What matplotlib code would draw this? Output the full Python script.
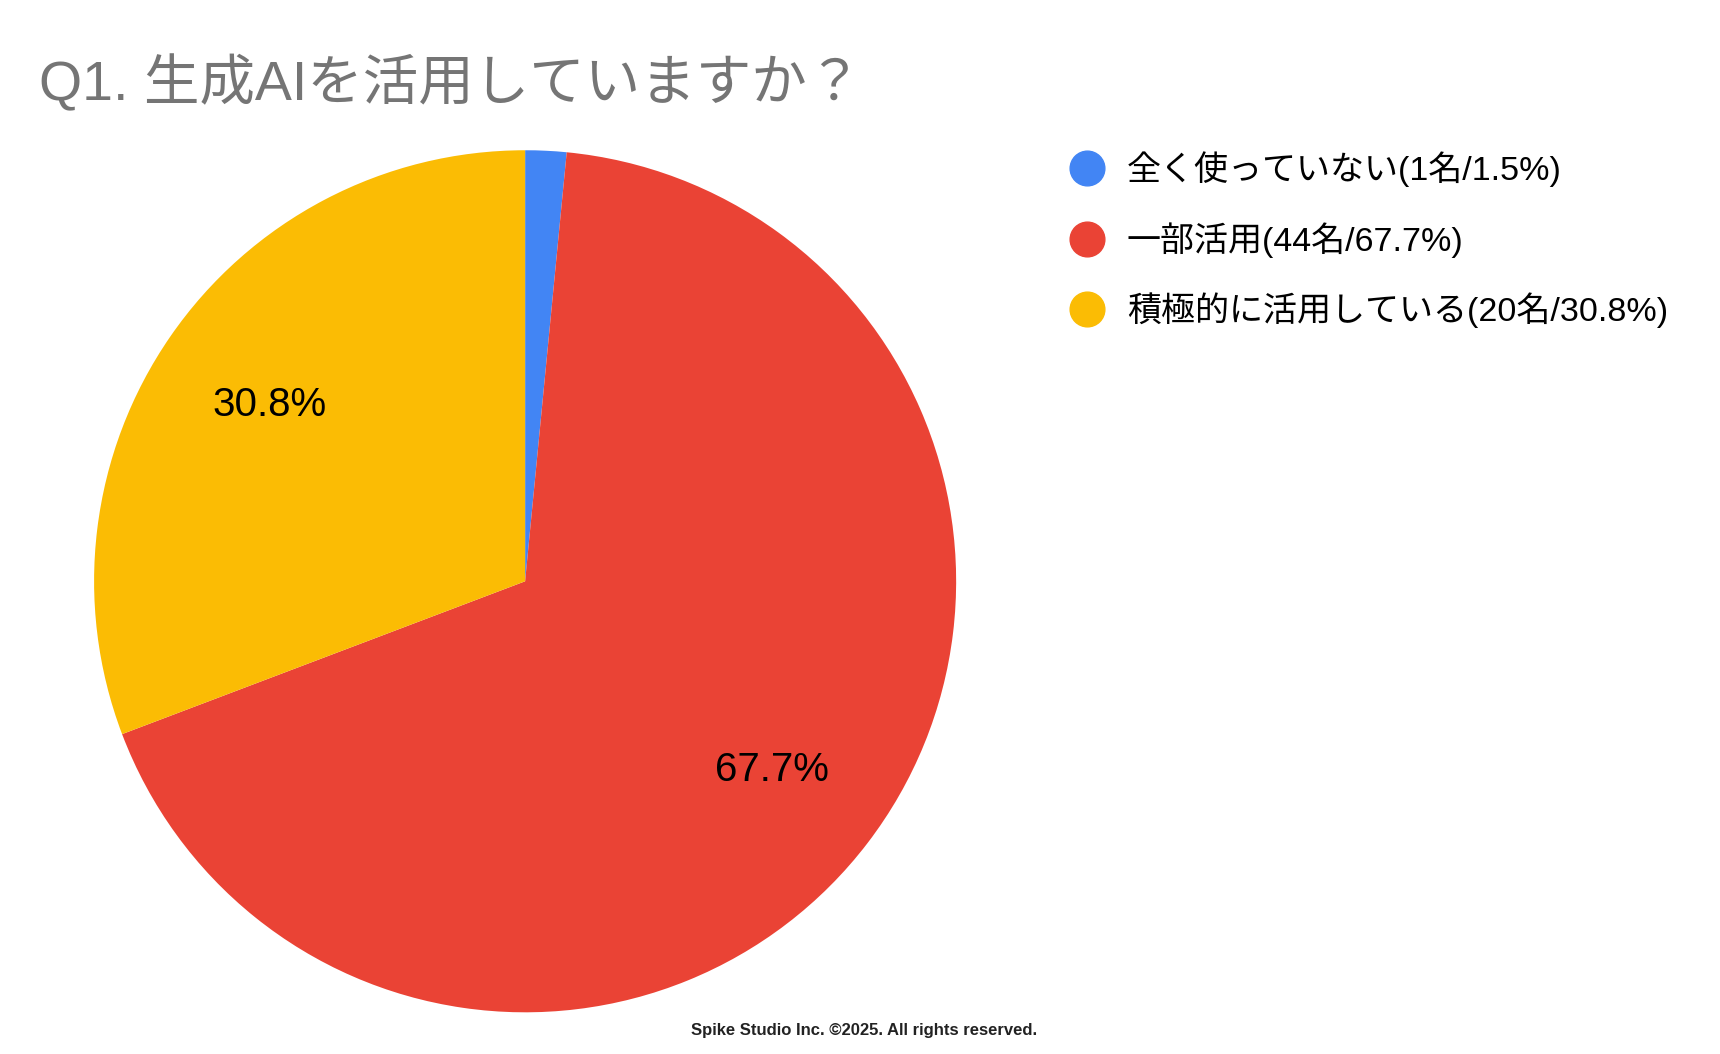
import matplotlib
matplotlib.use("Agg")
import matplotlib.pyplot as plt
from matplotlib.lines import Line2D

plt.rcParams['font.family'] = ['Liberation Sans', 'Noto Sans CJK JP', 'DejaVu Sans']

# Data
categories = ['全く使っていない', '一部活用', '積極的に活用している']
counts = [1, 44, 20]
colors = ['#4285F4', '#EA4335', '#FBBC04']
title = 'Q1. 生成AIを活用していますか？'
footer = 'Spike Studio Inc. ©2025. All rights reserved.'

total = sum(counts)
pcts = [c / total * 100 for c in counts]

fig = plt.figure(figsize=(17.2, 10.54), dpi=100)
fig.patch.set_facecolor('white')

ax = fig.add_axes([0.0547, 0.0395, 0.5012, 0.818])

def fmt(p):
    return f'{p:.1f}%' if p >= 5 else ''

wedges, texts, autotexts = ax.pie(
    counts, colors=colors, startangle=90, counterclock=False,
    autopct=fmt, pctdistance=0.72,
    textprops=dict(fontsize=29, color='black'),
    wedgeprops=dict(linewidth=0))
ax.set_xlim(-1, 1)
ax.set_ylim(-1, 1)
ax.set_aspect('equal')

fig.text(39 / 1720, 1 - 100 / 1054, title, fontsize=40, color='#757575',
         ha='left', va='baseline')

handles = [Line2D([0], [0], marker='o', linestyle='none', markersize=25,
                  markerfacecolor=c, markeredgecolor=c) for c in colors]
labels = [f'{cat}({n}名/{p:.1f}%)' for cat, n, p in zip(categories, counts, pcts)]
fig.legend(handles, labels, loc='upper left',
           bbox_to_anchor=(1053 / 1720, 1 - 138 / 1054),
           frameon=False, fontsize=24.5, labelspacing=1.02,
           handletextpad=0.57, handlelength=1.2, borderaxespad=0)

fig.text(864.5 / 1720, 1 - 1031 / 1054, footer, fontsize=12, fontweight='bold',
         color='#222222', ha='center', va='center')

fig.savefig('out.png', dpi=100, facecolor='white')
